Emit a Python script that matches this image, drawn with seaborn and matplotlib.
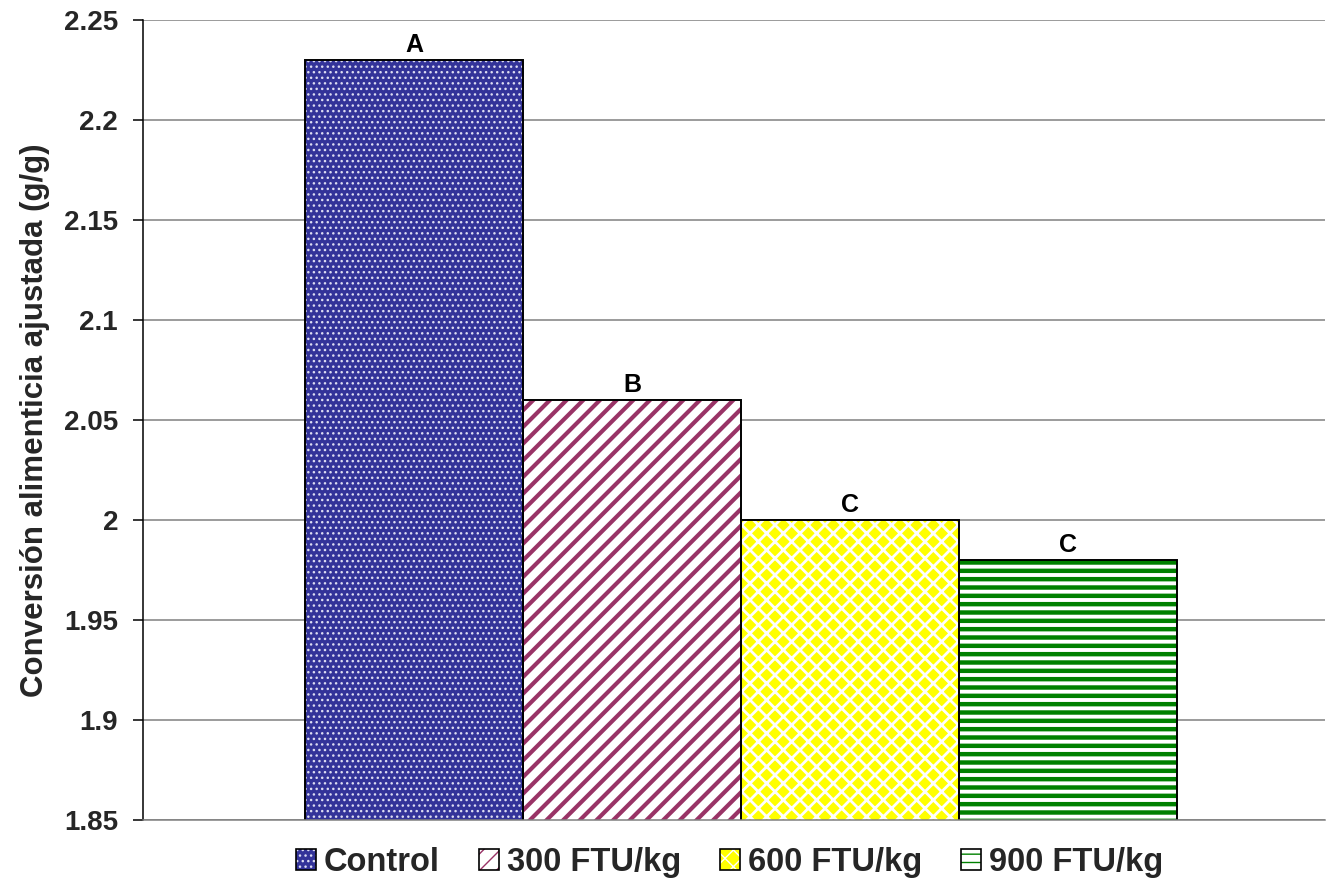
import numpy as np
import pandas as pd
import matplotlib
matplotlib.use("Agg")
import matplotlib.pyplot as plt
from matplotlib.patches import Rectangle
from matplotlib.legend_handler import HandlerTuple
import seaborn as sns

# Data
tratamientos = ["Control", "300 FTU/kg", "600 FTU/kg", "900 FTU/kg"]
conversion = [2.23, 2.06, 2.00, 1.98]
letras = ["A", "B", "C", "C"]
y_ticks = [1.85, 1.90, 1.95, 2.00, 2.05, 2.10, 2.15, 2.20, 2.25]
y_tick_labels = ["1.85", "1.9", "1.95", "2", "2.05", "2.1", "2.15", "2.2", "2.25"]
y_label = "Conversión alimenticia ajustada (g/g)"

# Fill style of each treatment: face colour, hatch, hatch colour, hatch width
estilos = [
    ("#333399", "...", "#dcdcf2", 1.0),
    ("#ffffff", "//", "#993366", 3.0),
    ("#ffff00", "xx", "#ffffff", 2.0),
    ("#ffffff", "--", "#008000", 3.2),
]

df = pd.DataFrame({"grupo": [""] * len(tratamientos),
                   "tratamiento": tratamientos,
                   "conversion": conversion})

sns.set_theme(style="white")
plt.rcParams["font.family"] = ["Liberation Sans", "DejaVu Sans"]
plt.rcParams["font.weight"] = "bold"

fig = plt.figure(figsize=(13.27, 8.94), dpi=100)
ax = fig.add_axes([0.1078, 0.0828, 0.8907, 0.8948])

sns.barplot(data=df, x="grupo", y="conversion", hue="tratamiento",
            hue_order=tratamientos, palette=[e[0] for e in estilos],
            width=0.8, gap=0, saturation=1, legend=False, ax=ax, errorbar=None)


def style_patch(p, est):
    face, hatch, hcol, hlw = est
    p.set_facecolor(face)
    p.set_hatch(hatch)
    p.set_edgecolor(hcol)
    p.set_linewidth(0)
    if hasattr(p, "set_hatch_linewidth"):
        p.set_hatch_linewidth(hlw)


bars = list(ax.patches)
for bar, est, letra, val in zip(bars, estilos, letras, conversion):
    style_patch(bar, est)
    ax.add_patch(Rectangle((bar.get_x(), bar.get_y()), bar.get_width(), bar.get_height(),
                           fill=False, edgecolor="black", linewidth=1.4, zorder=bar.get_zorder() + 0.1))
    ax.annotate(letra, (bar.get_x() + bar.get_width() / 2, val), xytext=(0, 2),
                textcoords="offset points", ha="center", va="bottom",
                fontsize=18, fontweight="bold", color="black")

ax.set_ylim(1.85, 2.25)
ax.set_xlim(-0.5486, 0.5358)
ax.set_yticks(y_ticks)
ax.set_yticklabels(y_tick_labels, fontsize=20, fontweight="bold")
ax.set_xticks([])
ax.set_xlabel("")
ax.set_ylabel(y_label, fontsize=22.5, fontweight="bold", labelpad=10)

ax.set_axisbelow(True)
ax.yaxis.grid(True, color="#808080", linewidth=1.1)
ax.xaxis.grid(False)
for s in ("top", "right"):
    ax.spines[s].set_visible(False)
ax.spines["left"].set_color("#000000")
ax.spines["left"].set_linewidth(1.1)
ax.spines["bottom"].set_color("#808080")
ax.spines["bottom"].set_linewidth(1.1)
ax.tick_params(axis="y", which="major", left=True, length=7, width=1.1,
               color="#000000", pad=11, direction="out")

# Legend with hatched swatches and black outline
handles = []
for est in estilos:
    sw = Rectangle((0, 0), 1, 1)
    style_patch(sw, est)
    edge = Rectangle((0, 0), 1, 1, fill=False, edgecolor="black", linewidth=1.2)
    handles.append((sw, edge))

fig.legend(handles, tratamientos, handler_map={tuple: HandlerTuple(ndivide=1, pad=0)},
           loc="center", bbox_to_anchor=(0.55, 0.035), ncol=4, frameon=False,
           prop={"size": 23.5, "weight": "bold"}, handlelength=0.6, handleheight=0.6,
           handletextpad=0.25, columnspacing=1.2, borderpad=0)

fig.savefig("out.png", dpi=100)
